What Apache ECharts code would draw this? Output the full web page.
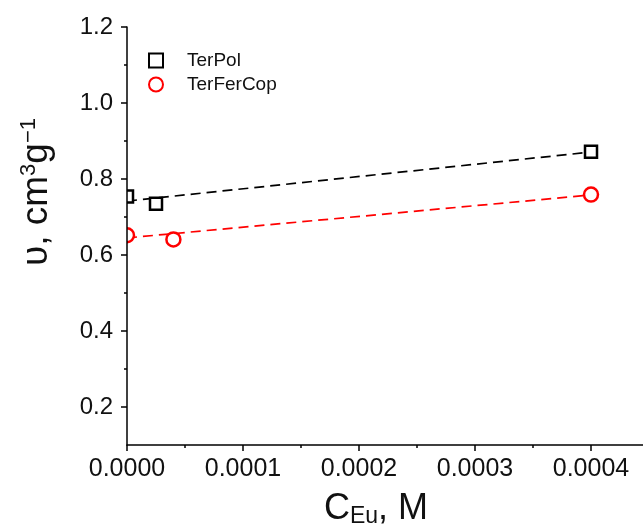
<!DOCTYPE html>
<html>
<head>
<meta charset="utf-8">
<script src="https://cdn.jsdelivr.net/npm/echarts@6/dist/echarts.min.js"></script>
<style>
  html, body { margin: 0; padding: 0; background: #fff; }
  #chart { width: 643px; height: 525px; }
</style>
</head>
<body>
<div id="chart"></div>
<script>
// data
const terPolX = [0, 0.000025, 0.0004]
const terPolY = [0.754, 0.735, 0.872]
const terFerCopX = [0, 0.00004, 0.0004]
const terFerCopY = [0.652, 0.641, 0.759]

// dashed fit lines (end points)
const fitX = [0, 0.0004]
const terPolFit = [0.742, 0.871]
const terFerCopFit = [0.645, 0.758]

// ticks
const xTicks = [0, 0.0001, 0.0002, 0.0003, 0.0004]
const xMinorTicks = [0.00005, 0.00015, 0.00025, 0.00035]
const yTicks = [0.2, 0.4, 0.6, 0.8, 1.0, 1.2]
const yMinorTicks = [0.3, 0.5, 0.7, 0.9, 1.1]

const font = 'Liberation Sans, Arial, sans-serif'
const gridLeft = 127

const zip = (xs, ys) => xs.map((x, i) => [x, ys[i]])

const chart = echarts.init(document.getElementById('chart'))

const axisLine = { lineStyle: { color: '#000', width: 1.5 } }

chart.setOption({
  animation: false,
  backgroundColor: '#fff',
  grid: { left: gridLeft, top: 27, width: 522, height: 418, outerBoundsMode: 'none', containLabel: false },
  legend: {
    orient: 'vertical',
    left: 148,
    top: 51,
    padding: 0,
    itemWidth: 14,
    itemHeight: 14,
    itemGap: 5,
    data: ['TerPol', 'TerFerCop'],
    textStyle: { fontFamily: font, fontSize: 19, color: '#111', padding: [0, 0, 0, 19] }
  },
  xAxis: [{
    type: 'value',
    position: 'bottom',
    min: 0,
    max: 0.00045,
    interval: 0.0001,
    splitLine: { show: false },
    axisLine: axisLine,
    axisTick: { show: true, length: 6, customValues: xTicks, lineStyle: { color: '#000', width: 1.5 } },
    axisLabel: {
      customValues: xTicks,
      margin: 12,
      fontFamily: font,
      fontSize: 25,
      color: '#111',
      formatter: v => v.toFixed(4)
    },
    name: 'C{sub|Eu}, M',
    nameLocation: 'middle',
    nameGap: 46,
    nameTextStyle: {
      fontFamily: font,
      fontSize: 36,
      color: '#111',
      padding: [0, 24, 0, 0],
      rich: { sub: { fontFamily: font, fontSize: 23, color: '#111', verticalAlign: 'bottom', padding: [14, 0, 0, 0] } }
    }
  }, {
    type: 'value',
    position: 'bottom',
    min: 0,
    max: 0.00045,
    axisLine: { show: false },
    splitLine: { show: false },
    axisLabel: { show: false },
    axisTick: { show: true, length: 3, customValues: xMinorTicks, lineStyle: { color: '#000', width: 1.5 } }
  }],
  yAxis: [{
    type: 'value',
    position: 'left',
    min: 0.1,
    max: 1.2,
    z: 5,
    splitLine: { show: false },
    axisLine: axisLine,
    axisTick: { show: true, length: 6, customValues: yTicks, lineStyle: { color: '#000', width: 1.5 } },
    axisLabel: {
      customValues: yTicks,
      margin: 14,
      fontFamily: font,
      fontSize: 24,
      color: '#111',
      formatter: v => v.toFixed(1)
    },
    name: 'υ, cm{sup|3}g{sup|−1}',
    nameLocation: 'middle',
    nameRotate: 90,
    nameGap: 72,
    nameTextStyle: {
      fontFamily: font,
      fontSize: 37,
      color: '#111',
      padding: [0, 0, 0, 88],
      rich: { sup: { fontFamily: font, fontSize: 22, color: '#111', verticalAlign: 'top' } }
    }
  }, {
    type: 'value',
    position: 'left',
    min: 0.1,
    max: 1.2,
    z: 5,
    axisLine: { show: false },
    splitLine: { show: false },
    axisLabel: { show: false },
    axisTick: { show: true, length: 3, customValues: yMinorTicks, lineStyle: { color: '#000', width: 1.5 } }
  }],
  // hides the part of the markers at C=0 that falls left of the y axis
  graphic: {
    elements: [{
      type: 'rect',
      z: 3,
      shape: { x: 114, y: 185, width: gridLeft - 114, height: 65 },
      style: { fill: '#fff' }
    }]
  },
  series: [{
    name: 'TerPol fit',
    type: 'line',
    data: zip(fitX, terPolFit),
    showSymbol: false,
    lineStyle: { color: '#000', width: 1.7, type: [10, 6] },
    z: 1
  }, {
    name: 'TerFerCop fit',
    type: 'line',
    data: zip(fitX, terFerCopFit),
    showSymbol: false,
    lineStyle: { color: '#ff0000', width: 1.7, type: [10, 6] },
    z: 1
  }, {
    name: 'TerPol',
    type: 'scatter',
    data: zip(terPolX, terPolY),
    symbol: 'rect',
    symbolSize: 12,
    itemStyle: { color: '#fff', borderColor: '#000', borderWidth: 2.5, opacity: 1 },
    z: 2
  }, {
    name: 'TerFerCop',
    type: 'scatter',
    data: zip(terFerCopX, terFerCopY),
    symbol: 'circle',
    symbolSize: 14,
    itemStyle: { color: '#fff', borderColor: '#ff0000', borderWidth: 2.5, opacity: 1 },
    z: 2
  }]
})
</script>
</body>
</html>
